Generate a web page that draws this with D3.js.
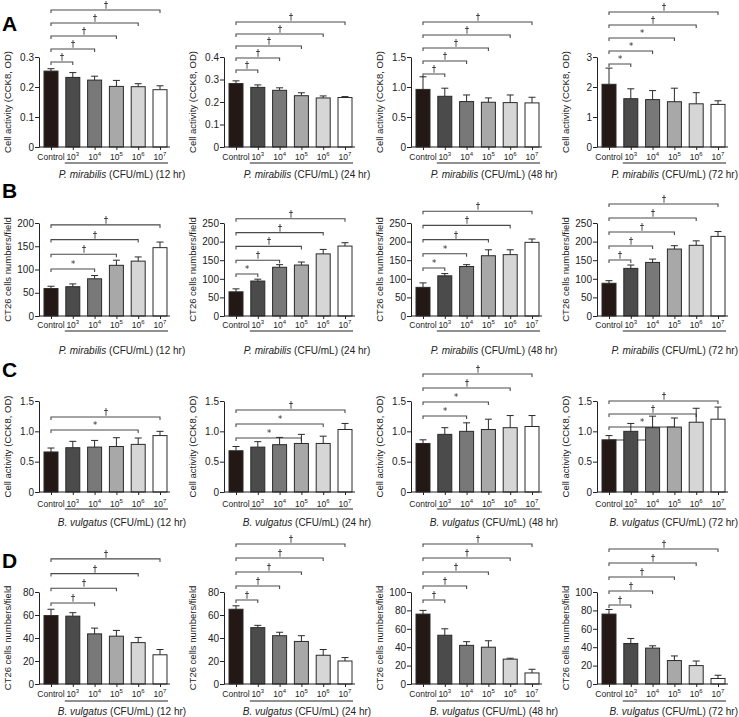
<!DOCTYPE html>
<html>
<head>
<meta charset="UTF-8" />
<title>CT26 bacteria panels</title>
<script src="https://d3js.org/d3.v7.min.js"></script>
<style>
  body { margin: 0; background: #fff; }
  text { font-family: "Liberation Sans", Arial, sans-serif; fill: #222; }
  text.sym { font-family: "DejaVu Sans", sans-serif; fill: #1a1a1a; }
</style>
</head>
<body>
<script>
// categories
var groups = ["Control", "3", "4", "5", "6", "7"]
var hours = ["12 hr", "24 hr", "48 hr", "72 hr"]

// A: P. mirabilis, CCK8
var cckPmMean = [[0.253, 0.232, 0.223, 0.202, 0.201, 0.191],
                 [0.282, 0.265, 0.252, 0.228, 0.218, 0.220],
                 [0.96, 0.845, 0.757, 0.746, 0.740, 0.735],
                 [2.09, 1.61, 1.58, 1.51, 1.44, 1.42]]
var cckPmErr  = [[0.008, 0.016, 0.013, 0.020, 0.010, 0.013],
                 [0.012, 0.011, 0.011, 0.013, 0.009, 0.004],
                 [0.21, 0.135, 0.11, 0.072, 0.127, 0.094],
                 [0.54, 0.33, 0.30, 0.45, 0.37, 0.12]]
var cckPmMax = [0.3, 0.4, 1.5, 3]
var cckPmStep = [0.1, 0.1, 0.5, 1]
var cckPmSig = [[[1, "†"], [2, "†"], [3, "†"], [4, "†"], [5, "†"]],
                [[1, "†"], [2, "†"], [3, "†"], [4, "†"], [5, "†"]],
                [[1, "†"], [2, "†"], [3, "†"], [4, "†"], [5, "†"]],
                [[1, "*"], [2, "*"], [3, "*"], [4, "†"], [5, "†"]]]

// B: P. mirabilis, cell numbers
var cellPmMean = [[59, 63, 80, 109, 118, 147],
                  [65, 94, 131, 137, 167, 188],
                  [77, 108, 133, 162, 165, 198],
                  [88, 128, 144, 180, 190, 214]]
var cellPmErr  = [[5, 6, 7, 11, 9, 12],
                  [8, 5, 7, 8, 12, 9],
                  [12, 6, 5, 16, 13, 9],
                  [7, 9, 9, 9, 12, 13]]
var cellPmMax = [200, 250, 250, 250]
var cellPmStep = [50, 50, 50, 50]
var cellPmSig = [[[2, "*"], [3, "†"], [4, "†"], [5, "†"]],
                 [[1, "*"], [2, "†"], [3, "†"], [4, "†"], [5, "†"]],
                 [[1, "*"], [2, "*"], [3, "†"], [4, "†"], [5, "†"]],
                 [[1, "†"], [2, "†"], [3, "†"], [4, "†"], [5, "†"]]]

// C: B. vulgatus, CCK8
var cckBvMean = [[0.66, 0.73, 0.74, 0.75, 0.785, 0.93],
                 [0.68, 0.74, 0.78, 0.80, 0.80, 1.03],
                 [0.80, 0.95, 1.00, 1.03, 1.06, 1.08],
                 [0.86, 1.00, 1.06, 1.07, 1.15, 1.20]]
var cckBvErr  = [[0.065, 0.105, 0.11, 0.145, 0.105, 0.07],
                 [0.07, 0.09, 0.12, 0.15, 0.12, 0.10],
                 [0.06, 0.11, 0.14, 0.17, 0.20, 0.18],
                 [0.07, 0.13, 0.19, 0.15, 0.23, 0.20]]
var cckBvMax = [1.5, 1.5, 1.5, 1.5]
var cckBvStep = [0.5, 0.5, 0.5, 0.5]
var cckBvSig = [[[4, "*"], [5, "†"]],
                [[3, "*"], [4, "*"], [5, "†"]],
                [[2, "*"], [3, "*"], [4, "†"], [5, "†"]],
                [[2, "*"], [3, "*"], [4, "†"], [5, "†"]]]

// D: B. vulgatus, cell numbers
var cellBvMean = [[59.5, 59, 43.6, 41.6, 36, 25.4],
                  [65, 49, 42, 37, 25, 20],
                  [76, 53, 42, 40, 27, 12],
                  [76, 44, 39, 25.5, 20, 6]]
var cellBvErr  = [[5.5, 3, 5, 5, 4.5, 4.6],
                  [3, 2, 3, 5, 5, 3],
                  [4, 7, 4, 7, 1, 4],
                  [5, 5.5, 2.5, 5, 5, 3.5]]
var cellBvMax = [80, 80, 100, 100]
var cellBvStep = [20, 20, 20, 20]
var cellBvSig = [[[2, "†"], [3, "†"], [4, "†"], [5, "†"]],
                 [[1, "†"], [2, "†"], [3, "†"], [4, "†"], [5, "†"]],
                 [[1, "†"], [2, "†"], [3, "†"], [4, "†"], [5, "†"]],
                 [[1, "†"], [2, "†"], [3, "†"], [4, "†"], [5, "†"]]]

var width = 739
var height = 717

var svg = d3.select("body").append("svg")
    .attr("width", width)
    .attr("height", height)

// a no-op filter: symbols get rendered off-screen in plain grayscale
svg.append("defs").append("filter").attr("id", "gray")
  .append("feOffset").attr("dx", 0).attr("dy", 0)

var colX = [39, 224, 411, 597]
var fills = ["#231815", "#4b4b4b", "#787878", "#a8a8a8", "#d6d6d6", "#ffffff"]

var rows = [
  {letter: "A", ly: 31, base: 147, top: 57, species: "P. mirabilis", ylab: "Cell activity (CCK8, OD)",
   mean: cckPmMean, err: cckPmErr, max: cckPmMax, step: cckPmStep, sig: cckPmSig,
   tickOff: 13, underOff: 16, titleOff: 31,
   bk: [[62, 13], [70, 12], [74, 13], [64, 13]]},
  {letter: "B", ly: 198, base: 316, top: 223, species: "P. mirabilis", ylab: "CT26 cells numbers/field",
   mean: cellPmMean, err: cellPmErr, max: cellPmMax, step: cellPmStep, sig: cellPmSig,
   tickOff: 12, underOff: 15, titleOff: 38,
   bk: [[269, 14.7], [274, 13.8], [268, 14.2], [260, 14]]},
  {letter: "C", ly: 377, base: 492, top: 401, species: "B. vulgatus", ylab: "Cell activity (CCK8, OD)",
   mean: cckBvMean, err: cckBvErr, max: cckBvMax, step: cckBvStep, sig: cckBvSig,
   tickOff: 15, underOff: 17, titleOff: 34,
   bk: [[430, 13], [438, 14], [416, 14], [440, 13]]},
  {letter: "D", ly: 568, base: 684, top: 592, species: "B. vulgatus", ylab: "CT26 cells numbers/field",
   mean: cellBvMean, err: cellBvErr, max: cellBvMax, step: cellBvStep, sig: cellBvSig,
   tickOff: 13, underOff: 17, titleOff: 31,
   bk: [[603, 14.7], [600, 14], [600, 14], [605, 14]]}
]

rows.forEach(function(row) {
  svg.append("text")
    .attr("x", 2).attr("y", row.ly)
    .style("font-size", "21px").style("font-weight", "bold").style("fill", "#000")
    .text(row.letter)

  row.mean.forEach(function(means, c) {
    drawPanel(row, c, means, row.err[c])
  })
})

function drawPanel(row, c, means, errs) {
  var x0 = colX[c]
  var g = svg.append("g")

  var x = d3.scalePoint().domain(groups).range([x0 + 12, x0 + 121])
  var y = d3.scaleLinear().domain([0, row.max[c]]).range([row.base, row.top])
  var ticks = d3.range(0, row.max[c] + row.step[c] / 2, row.step[c])
  var fmt = function(v) {
    if (v === 0) return "0"
    return row.step[c] < 1 ? d3.format(".1f")(v) : d3.format("d")(v)
  }

  // significance brackets (drawn first, behind bars)
  var bk = row.bk[c]
  var symG = g.append("g").attr("filter", "url(#gray)")
  row.sig[c].forEach(function(s, k) {
    var by = bk[0] - k * bk[1]
    var xa1 = x(groups[0]), xa2 = x(groups[s[0]])
    g.append("path")
      .attr("d", "M" + xa1 + "," + (by + 3) + "V" + by + "H" + xa2 + "V" + (by + 3))
      .attr("fill", "none")
      .attr("stroke", "#4a4a4a")
      .attr("stroke-width", 1.1)
    symG.append("text")
      .attr("class", "sym")
      .attr("x", Math.round((xa1 + xa2) / 2)).attr("y", by - 2)
      .attr("text-anchor", "middle")
      .style("font-size", s[1] === "*" ? "8.5px" : "9px")
      .text(s[1])
  })

  // bars
  g.selectAll("rect.bar").data(means).enter().append("rect")
    .attr("class", "bar")
    .attr("x", function(d, i) { return x(groups[i]) - 7 })
    .attr("width", 14)
    .attr("y", function(d) { return y(d) })
    .attr("height", function(d) { return row.base - y(d) })
    .attr("fill", function(d, i) { return fills[i] })
    .attr("stroke", "#2a2a2a")
    .attr("stroke-width", 1)

  // error bars (upper only)
  means.forEach(function(m, i) {
    var cx = x(groups[i])
    g.append("line")
      .attr("x1", cx).attr("x2", cx)
      .attr("y1", y(m)).attr("y2", y(m + errs[i]))
      .attr("stroke", "#2a2a2a").attr("stroke-width", 1)
    g.append("line")
      .attr("x1", cx - 3.5).attr("x2", cx + 3.5)
      .attr("y1", y(m + errs[i])).attr("y2", y(m + errs[i]))
      .attr("stroke", "#2a2a2a").attr("stroke-width", 1)
  })

  // y axis
  var ya = g.append("g")
    .attr("transform", "translate(" + x0 + ",0)")
    .call(d3.axisLeft(y).tickValues(ticks).tickFormat(fmt).tickSize(4).tickSizeOuter(0))
  ya.select(".domain").attr("stroke", "#222")
  ya.selectAll(".tick line").attr("stroke", "#222")
  ya.selectAll("text").style("font-size", "10px").attr("x", -5)
    .style("font-family", "'Liberation Sans', Arial, sans-serif").style("fill", "#222")

  // x axis
  g.append("line")
    .attr("x1", x0).attr("x2", x0 + 131)
    .attr("y1", row.base).attr("y2", row.base)
    .attr("stroke", "#222")
  var xa = g.append("g")
    .attr("transform", "translate(0," + row.base + ")")
    .call(d3.axisBottom(x).tickSize(3).tickFormat(""))
  xa.select(".domain").remove()
  xa.selectAll(".tick line").attr("stroke", "#222")

  groups.forEach(function(gr, i) {
    var t = g.append("text")
      .attr("x", x(gr)).attr("y", row.base + row.tickOff)
      .attr("text-anchor", "middle")
      .style("font-size", "8.5px")
    if (i === 0) {
      t.text(gr)
    } else {
      t.append("tspan").text("10")
      t.append("tspan").attr("dy", -4).style("font-size", "6px").text(gr)
    }
  })

  g.append("line")
    .attr("x1", x(groups[1]) - 8).attr("x2", x(groups[5]) + 8)
    .attr("y1", row.base + row.underOff).attr("y2", row.base + row.underOff)
    .attr("stroke", "#222")

  var tt = g.append("text")
    .attr("x", x0 + 83).attr("y", row.base + row.titleOff)
    .attr("text-anchor", "middle")
    .style("font-size", "10px")
  tt.append("tspan").style("font-style", "italic").text(row.species)
  tt.append("tspan").text(" (CFU/mL) (" + hours[c] + ")")
  var w = tt.node().getComputedTextLength()
  if (x0 + 83 + w / 2 > width - 1) tt.attr("x", width - 1 - w / 2)

  // y label
  g.append("text")
    .attr("transform", "translate(" + (x0 - 28) + "," + ((row.base + row.top) / 2) + ") rotate(-90)")
    .attr("text-anchor", "middle")
    .style("font-size", "9.5px")
    .text(row.ylab)
}
</script>
</body>
</html>
